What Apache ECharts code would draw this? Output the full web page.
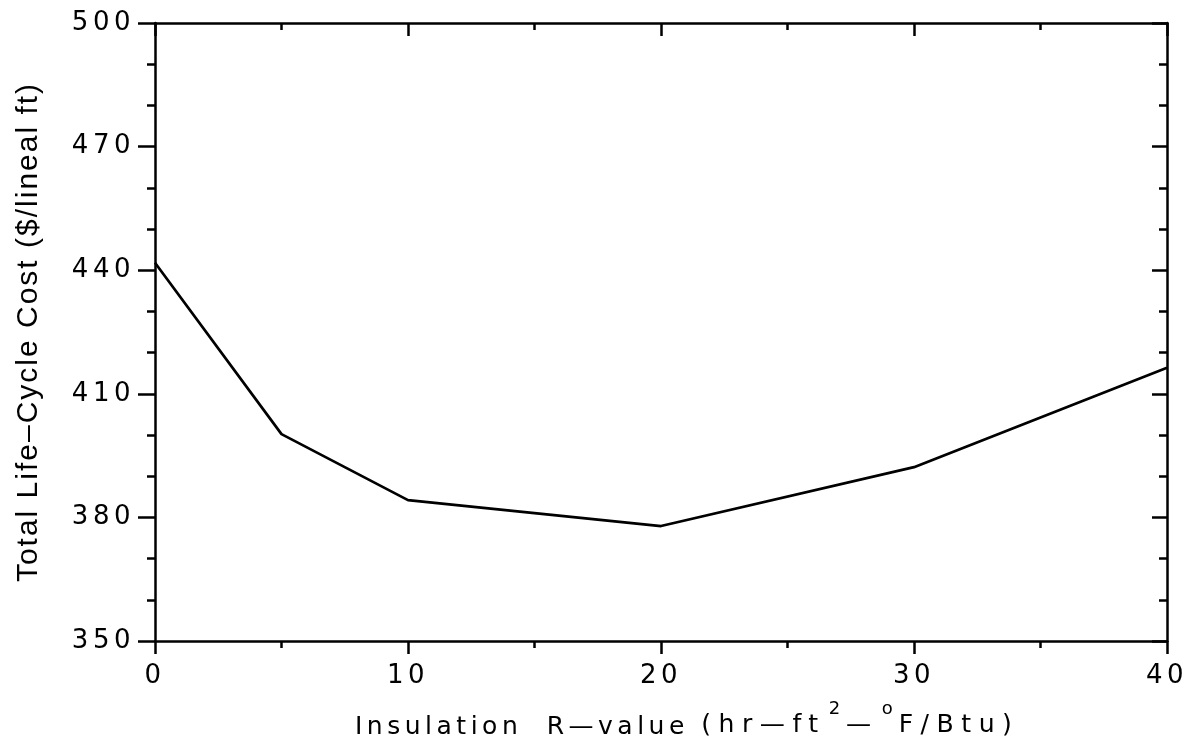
<!DOCTYPE html>
<html>
<head>
<meta charset="utf-8">
<script src="https://cdn.jsdelivr.net/npm/echarts@6/dist/echarts.min.js"></script>
<style>html,body{margin:0;padding:0;background:#fff}#c{width:1196px;height:743px}</style>
</head>
<body>
<div id="c"></div>
<script>
const rValues = [0, 5, 10, 20, 30, 40];
const costs = [441.8, 400.2, 384.2, 377.9, 392.2, 416.3];
const xTicks = [0, 10, 20, 30, 40];
const yTicks = [350, 380, 410, 440, 470, 500];

// letter spacing by font size (reference uses a wide plotter font)
(function () {
  const proto = CanvasRenderingContext2D.prototype;
  const spacingFor = function (font) {
    if (/\b26px/.test(font)) return '4.5px';
    if (/\b25\.1px/.test(font)) return '7.5px';
    if (/\b25px/.test(font)) return '4.5px';
    if (/\b18px/.test(font)) return '3px';
    if (/\b30px/.test(font)) return '2px';
    return '0px';
  };
  const oFill = proto.fillText, oMeasure = proto.measureText, oStroke = proto.strokeText;
  proto.fillText = function () { this.letterSpacing = spacingFor(this.font); return oFill.apply(this, arguments); };
  proto.strokeText = function () { this.letterSpacing = spacingFor(this.font); return oStroke.apply(this, arguments); };
  proto.measureText = function () { this.letterSpacing = spacingFor(this.font); return oMeasure.apply(this, arguments); };
})();

const chart = echarts.init(document.getElementById('c'), null, {renderer: 'canvas'});
const axisStyle = {color: '#000', width: 2.5};
const font = 'DejaVu Sans';
const mainText = {fontFamily: font, fontSize: 25, fontWeight: 'normal', color: '#000', verticalAlign: 'bottom', lineHeight: 28};
const baseX = {
  type: 'value', min: 0, max: 40, interval: 10,
  axisLine: {show: true, onZero: false, lineStyle: axisStyle},
  splitLine: {show: false}, minorSplitLine: {show: false}
};
const baseY = {
  type: 'value', min: 350, max: 500, interval: 30,
  axisLine: {show: true, onZero: false, lineStyle: axisStyle},
  splitLine: {show: false}, minorSplitLine: {show: false}
};
chart.setOption({
  animation: false,
  backgroundColor: '#fff',
  grid: {left: 155, right: 29, top: 23, bottom: 102},
  title: {
    text: '{main|Insulation }{gap|R—value }{par|(hr—ft}{sup|2}{par|—}{sup|o}{par|F/Btu)}',
    left: 355, top: 714, padding: 0,
    textStyle: {
      fontFamily: font, fontSize: 25, fontWeight: 'normal', color: '#000',
      rich: {
        main: mainText,
        gap: Object.assign({}, mainText, {padding: [0, 0, 0, 12]}),
        par: Object.assign({}, mainText, {fontSize: 25.1}),
        sup: {fontFamily: font, fontSize: 18, fontWeight: 'normal', color: '#000', verticalAlign: 'bottom', lineHeight: 18, padding: [0, 3, 22, 3]}
      }
    }
  },
  xAxis: [
    Object.assign({}, baseX, {
      position: 'bottom',
      axisTick: {show: true, inside: false, length: 13, lineStyle: axisStyle},
      minorTick: {show: true, splitNumber: 2, length: 7, lineStyle: axisStyle},
      axisLabel: {show: true, margin: 20, color: '#000', fontFamily: font, fontSize: 26,
        formatter: v => xTicks.includes(v) ? String(v) : ''}
    }),
    Object.assign({}, baseX, {
      position: 'top',
      axisTick: {show: true, inside: true, length: 13, lineStyle: axisStyle},
      minorTick: {show: true, splitNumber: 2, length: 7, lineStyle: axisStyle},
      axisLabel: {show: false}
    })
  ],
  yAxis: [
    Object.assign({}, baseY, {
      position: 'left',
      axisTick: {show: true, inside: false, length: 17, lineStyle: axisStyle},
      minorTick: {show: true, splitNumber: 3, length: 8, lineStyle: axisStyle},
      axisLabel: {show: true, margin: 20, color: '#000', fontFamily: font, fontSize: 26,
        formatter: v => yTicks.includes(v) ? String(v) : ''},
      name: 'Total Life–Cycle Cost ($/lineal ft)',
      nameLocation: 'middle', nameGap: 110,
      nameTextStyle: {fontFamily: 'Liberation Sans', fontSize: 30, color: '#000'}
    }),
    Object.assign({}, baseY, {
      position: 'right',
      axisTick: {show: true, inside: true, length: 15, lineStyle: axisStyle},
      minorTick: {show: true, splitNumber: 3, length: 8, lineStyle: axisStyle},
      axisLabel: {show: false}
    })
  ],
  series: [{
    type: 'line',
    data: rValues.map((x, i) => [x, costs[i]]),
    symbol: 'none',
    lineStyle: {color: '#000', width: 2.7},
    xAxisIndex: 0, yAxisIndex: 0
  }]
});
</script>
</body>
</html>
